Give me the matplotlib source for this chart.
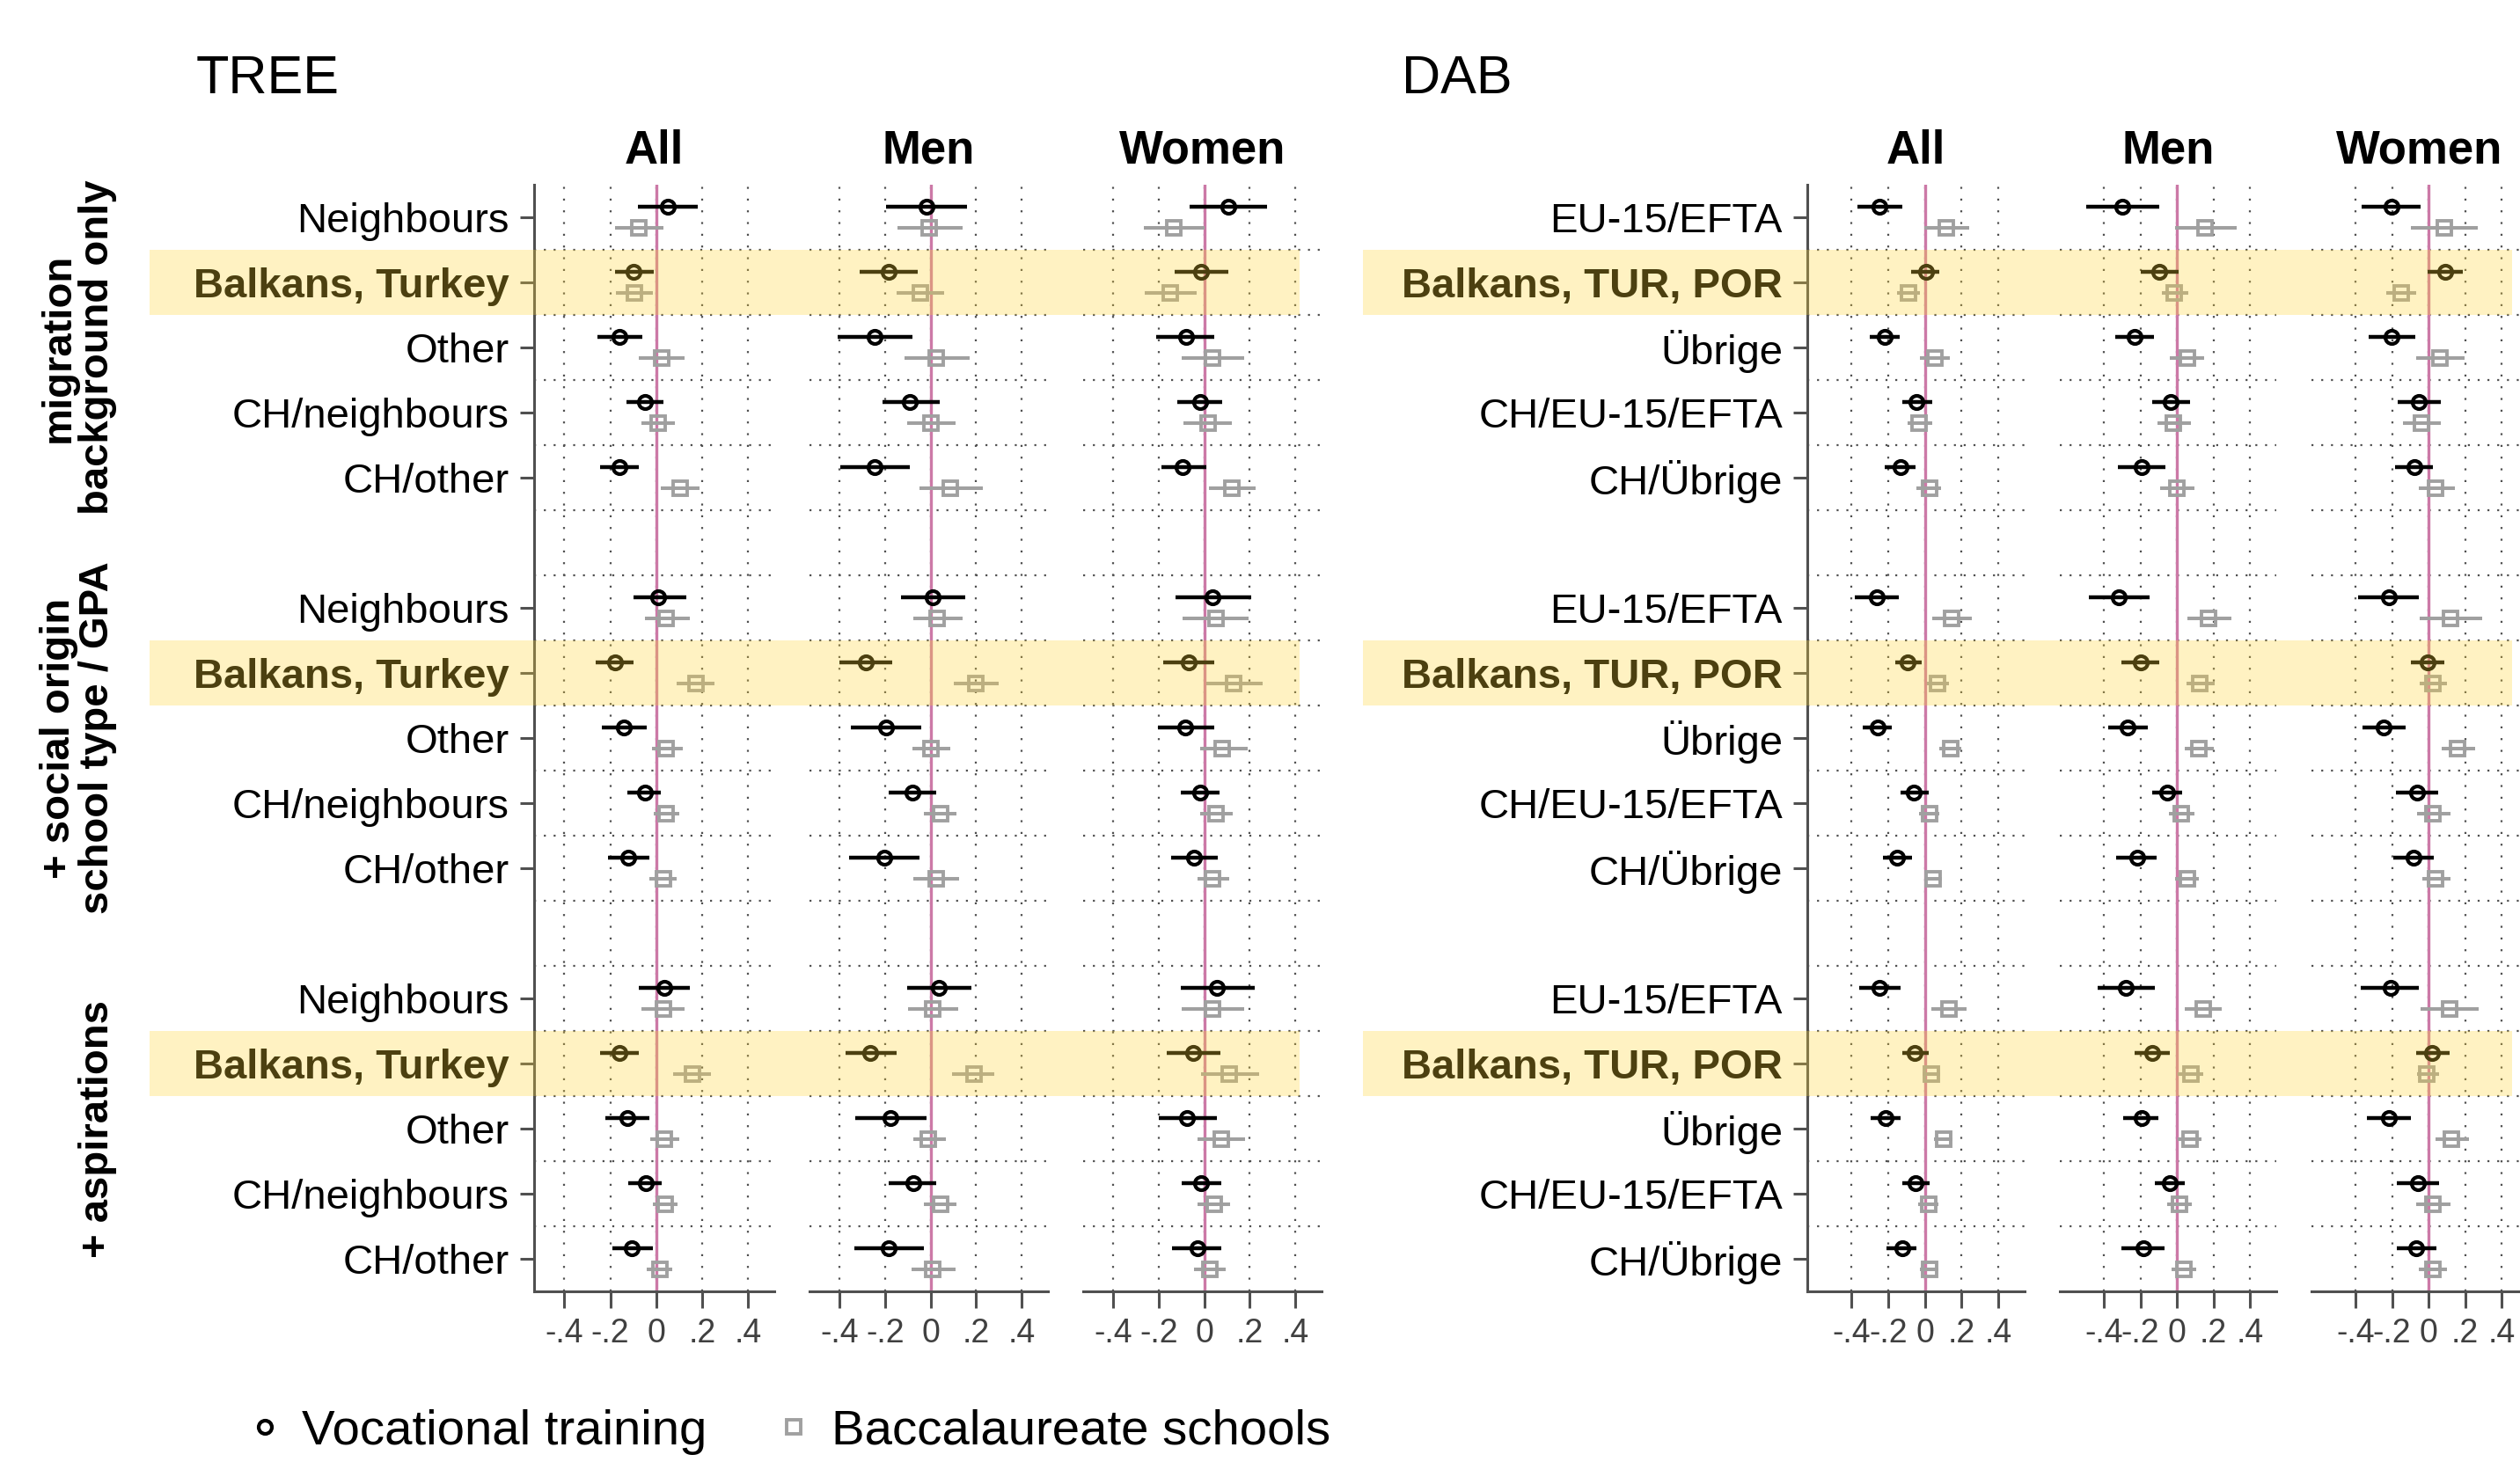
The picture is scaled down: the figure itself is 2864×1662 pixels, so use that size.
import numpy as np
import matplotlib
matplotlib.use("Agg")
import matplotlib.pyplot as plt
from matplotlib import transforms
from matplotlib.patches import Rectangle

plt.rcParams['font.family'] = ['Liberation Sans', 'DejaVu Sans']

W, H, DPI = 2864, 1662, 200

# ---------------- data ----------------
groups = ["migration\nbackground only", "+ social origin\nschool type / GPA", "+ aspirations"]
columns = ["All", "Men", "Women"]
tree_cats = ["Neighbours", "Balkans, Turkey", "Other", "CH/neighbours", "CH/other"]
dab_cats = ["EU-15/EFTA", "Balkans, TUR, POR", "Übrige", "CH/EU-15/EFTA", "CH/Übrige"]
highlight = ["Balkans, Turkey", "Balkans, TUR, POR"]
xticks = [-0.4, -0.2, 0, 0.2, 0.4]
xticklabels = ["-.4", "-.2", "0", ".2", ".4"]
series_labels = ["Vocational training", "Baccalaureate schools"]

# each list: block 1 (5 categories) | block 2 | block 3
tree_all_voc    = [0.05, -0.10, -0.16, -0.05, -0.16,   0.01, -0.18, -0.14, -0.05, -0.12,   0.035, -0.16, -0.125, -0.045, -0.105]
tree_all_voc_lo = [-0.08, -0.18, -0.255, -0.13, -0.245, -0.10, -0.265, -0.235, -0.125, -0.21, -0.075, -0.245, -0.22, -0.12, -0.19]
tree_all_voc_hi = [0.18, -0.01, -0.06, 0.03, -0.075,   0.13, -0.10, -0.04, 0.02, -0.03,   0.145, -0.075, -0.03, 0.025, -0.015]
tree_all_bac    = [-0.075, -0.095, 0.025, 0.01, 0.105,  0.045, 0.175, 0.045, 0.045, 0.03,  0.03, 0.16, 0.035, 0.04, 0.015]
tree_all_bac_lo = [-0.18, -0.175, -0.075, -0.065, 0.02, -0.05, 0.09, -0.02, -0.01, -0.03,  -0.065, 0.075, -0.025, -0.015, -0.04]
tree_all_bac_hi = [0.03, -0.015, 0.125, 0.08, 0.19,     0.145, 0.255, 0.115, 0.10, 0.09,   0.125, 0.24, 0.10, 0.095, 0.07]

tree_men_voc    = [-0.02, -0.185, -0.245, -0.09, -0.245, 0.01, -0.285, -0.195, -0.08, -0.205, 0.035, -0.265, -0.175, -0.075, -0.185]
tree_men_voc_lo = [-0.195, -0.31, -0.41, -0.21, -0.395, -0.13, -0.40, -0.35, -0.185, -0.36, -0.105, -0.375, -0.33, -0.185, -0.335]
tree_men_voc_hi = [0.16, -0.055, -0.08, 0.04, -0.09,    0.15, -0.17, -0.04, 0.025, -0.05,  0.18, -0.15, -0.02, 0.025, -0.03]
tree_men_bac    = [-0.005, -0.045, 0.025, 0.0, 0.085,   0.03, 0.20, 0.0, 0.045, 0.025,    0.01, 0.19, -0.01, 0.045, 0.01]
tree_men_bac_lo = [-0.145, -0.15, -0.115, -0.105, -0.05, -0.075, 0.10, -0.08, -0.03, -0.075, -0.10, 0.095, -0.075, -0.03, -0.085]
tree_men_bac_hi = [0.14, 0.06, 0.17, 0.11, 0.23,        0.14, 0.30, 0.085, 0.115, 0.125,  0.12, 0.28, 0.065, 0.115, 0.11]

tree_women_voc    = [0.105, -0.015, -0.08, -0.02, -0.095, 0.035, -0.07, -0.085, -0.02, -0.045, 0.055, -0.05, -0.075, -0.015, -0.03]
tree_women_voc_lo = [-0.065, -0.13, -0.21, -0.12, -0.19,  -0.125, -0.18, -0.205, -0.105, -0.145, -0.105, -0.165, -0.20, -0.10, -0.14]
tree_women_voc_hi = [0.275, 0.105, 0.045, 0.08, 0.01,     0.205, 0.045, 0.045, 0.065, 0.06,   0.22, 0.07, 0.055, 0.075, 0.075]
tree_women_bac    = [-0.135, -0.15, 0.035, 0.015, 0.12,   0.05, 0.13, 0.08, 0.05, 0.035,     0.035, 0.11, 0.075, 0.045, 0.025]
tree_women_bac_lo = [-0.265, -0.26, -0.10, -0.09, 0.02,   -0.095, 0.01, -0.02, -0.02, -0.03, -0.10, -0.015, -0.03, -0.03, -0.045]
tree_women_bac_hi = [0.0, -0.035, 0.175, 0.12, 0.225,     0.195, 0.255, 0.19, 0.125, 0.11,   0.175, 0.24, 0.18, 0.115, 0.095]

dab_all_voc    = [-0.25, 0.005, -0.22, -0.045, -0.135,  -0.265, -0.095, -0.26, -0.06, -0.15, -0.25, -0.055, -0.215, -0.05, -0.125]
dab_all_voc_lo = [-0.37, -0.075, -0.30, -0.125, -0.22,  -0.385, -0.16, -0.34, -0.135, -0.23, -0.36, -0.125, -0.295, -0.125, -0.21]
dab_all_voc_hi = [-0.125, 0.08, -0.14, 0.04, -0.05,     -0.145, -0.02, -0.18, 0.02, -0.07,  -0.135, 0.02, -0.135, 0.025, -0.045]
dab_all_bac    = [0.115, -0.09, 0.055, -0.03, 0.025,    0.145, 0.07, 0.14, 0.025, 0.045,    0.13, 0.035, 0.10, 0.02, 0.025]
dab_all_bac_lo = [-0.005, -0.15, -0.025, -0.095, -0.045, 0.04, 0.01, 0.08, -0.03, 0.0,      0.035, -0.015, 0.05, -0.035, -0.025]
dab_all_bac_hi = [0.24, -0.025, 0.135, 0.04, 0.09,      0.255, 0.13, 0.20, 0.08, 0.095,     0.225, 0.085, 0.15, 0.075, 0.075]

dab_men_voc    = [-0.30, -0.095, -0.23, -0.035, -0.195,  -0.32, -0.20, -0.27, -0.055, -0.22,  -0.28, -0.135, -0.195, -0.04, -0.185]
dab_men_voc_lo = [-0.495, -0.20, -0.34, -0.135, -0.325, -0.485, -0.305, -0.375, -0.135, -0.335, -0.435, -0.23, -0.295, -0.12, -0.305]
dab_men_voc_hi = [-0.095, 0.01, -0.125, 0.07, -0.065,   -0.15, -0.095, -0.16, 0.03, -0.11,   -0.12, -0.04, -0.10, 0.045, -0.07]
dab_men_bac    = [0.155, -0.015, 0.055, -0.02, 0.0,     0.175, 0.125, 0.12, 0.025, 0.055,    0.145, 0.075, 0.07, 0.015, 0.04]
dab_men_bac_lo = [-0.01, -0.085, -0.04, -0.105, -0.09,  0.055, 0.05, 0.045, -0.045, -0.01,   0.045, 0.005, 0.005, -0.055, -0.03]
dab_men_bac_hi = [0.325, 0.06, 0.15, 0.075, 0.095,      0.30, 0.205, 0.20, 0.095, 0.12,      0.245, 0.145, 0.135, 0.08, 0.105]

dab_women_voc    = [-0.205, 0.09, -0.205, -0.055, -0.08,  -0.22, -0.005, -0.245, -0.065, -0.085, -0.21, 0.02, -0.22, -0.06, -0.07]
dab_women_voc_lo = [-0.365, -0.005, -0.33, -0.17, -0.185, -0.385, -0.095, -0.36, -0.18, -0.195, -0.37, -0.07, -0.34, -0.175, -0.175]
dab_women_voc_hi = [-0.045, 0.185, -0.075, 0.065, 0.025,  -0.055, 0.085, -0.125, 0.05, 0.03,    -0.055, 0.115, -0.095, 0.055, 0.045]
dab_women_bac    = [0.085, -0.15, 0.06, -0.04, 0.04,      0.12, 0.025, 0.16, 0.025, 0.04,       0.115, -0.01, 0.125, 0.025, 0.025]
dab_women_bac_lo = [-0.095, -0.23, -0.07, -0.14, -0.055,  -0.05, -0.05, 0.07, -0.065, -0.035,   -0.045, -0.065, 0.04, -0.07, -0.055]
dab_women_bac_hi = [0.27, -0.07, 0.195, 0.065, 0.145,     0.295, 0.10, 0.255, 0.12, 0.12,       0.275, 0.055, 0.22, 0.12, 0.10]

tree_data = {
    "All": (tree_all_voc, tree_all_voc_lo, tree_all_voc_hi, tree_all_bac, tree_all_bac_lo, tree_all_bac_hi),
    "Men": (tree_men_voc, tree_men_voc_lo, tree_men_voc_hi, tree_men_bac, tree_men_bac_lo, tree_men_bac_hi),
    "Women": (tree_women_voc, tree_women_voc_lo, tree_women_voc_hi, tree_women_bac, tree_women_bac_lo, tree_women_bac_hi),
}
dab_data = {
    "All": (dab_all_voc, dab_all_voc_lo, dab_all_voc_hi, dab_all_bac, dab_all_bac_lo, dab_all_bac_hi),
    "Men": (dab_men_voc, dab_men_voc_lo, dab_men_voc_hi, dab_men_bac, dab_men_bac_lo, dab_men_bac_hi),
    "Women": (dab_women_voc, dab_women_voc_lo, dab_women_voc_hi, dab_women_bac, dab_women_bac_lo, dab_women_bac_hi),
}

# ---------------- style ----------------
PINK = "#CC79A7"
GRAY = "#A0A0A0"
GRID = "#505050"
SPINE = "#505050"
BAND = (1.0, 0.835, 0.21)

# category slots: 5 categories per block, one empty slot between blocks
pos = np.array([6 * b + c for b in range(3) for c in range(5)], dtype=float)
off = 0.162

AX_TOP, AX_BOT = 210, 1468
tree_x = [(607, 880), (920, 1191), (1231, 1502)]
dab_x = [(2054, 2301), (2341, 2587), (2627, 2873)]
tree_xlim = (-0.532, 0.515)
dab_xlim = (-0.642, 0.544)

fig = plt.figure(figsize=(W / DPI, H / DPI), dpi=DPI)


def px_box(x0, x1):
    return [x0 / W, 1 - AX_BOT / H, (x1 - x0) / W, (AX_BOT - AX_TOP) / H]


def draw_panel(ax, data, xlim, cats, title, first):
    voc, voc_lo, voc_hi, bac, bac_lo, bac_hi = [np.asarray(a) for a in data]
    ax.set_xlim(*xlim)
    ax.set_ylim(16.5, -0.5)
    ax.axvline(0, color=PINK, lw=1.2, zorder=1.5)
    for s in np.arange(0.5, 16, 1.0):
        ax.axhline(s, color=GRID, lw=0.8, ls=(0, (1, 4)), zorder=1)
    ax.set_xticks(xticks)
    ax.set_xticklabels(xticklabels)
    ax.grid(axis="x", color=GRID, lw=0.8, ls=(0, (1, 5)))
    ax.set_axisbelow(True)

    ax.hlines(pos + off, bac_lo, bac_hi, color=GRAY, lw=1.45, zorder=3)
    hb, = ax.plot(bac, pos + off, "s", ms=5.8, mfc="none", mec=GRAY, mew=1.4, zorder=4)
    ax.hlines(pos - off, voc_lo, voc_hi, color="black", lw=1.6, zorder=3)
    hv, = ax.plot(voc, pos - off, "o", ms=5.4, mfc="none", mec="black", mew=1.5, zorder=4)

    for sp in ["top", "right"]:
        ax.spines[sp].set_visible(False)
    ax.spines["bottom"].set_color(SPINE)
    ax.spines["bottom"].set_linewidth(1.1)
    ax.tick_params(axis="x", length=6.8, width=1.1, color=SPINE,
                   labelsize=13.5, labelcolor="#404040", pad=4)
    if first:
        ax.spines["left"].set_color(SPINE)
        ax.spines["left"].set_linewidth(1.1)
        ax.set_yticks(pos)
        ax.set_yticklabels(cats * 3)
        ax.tick_params(axis="y", length=5.8, width=1.1, color=SPINE,
                       labelsize=17, pad=4.3)
        for lab in ax.get_yticklabels():
            if lab.get_text() in highlight:
                lab.set_fontweight("bold")
    else:
        ax.spines["left"].set_visible(False)
        ax.set_yticks([])
    ax.text(0.5, (AX_BOT - 186) / (AX_BOT - AX_TOP), title, transform=ax.transAxes,
            ha="center", va="baseline", fontsize=19, fontweight="bold")
    return hv, hb


handles = None
axes_tree = []
for (x0, x1), col in zip(tree_x, columns):
    ax = fig.add_axes(px_box(x0, x1))
    handles = draw_panel(ax, tree_data[col], tree_xlim, tree_cats, col, col == "All")
    axes_tree.append(ax)

axes_dab = []
for (x0, x1), col in zip(dab_x, columns):
    ax = fig.add_axes(px_box(x0, x1))
    draw_panel(ax, dab_data[col], dab_xlim, dab_cats, col, col == "All")
    axes_dab.append(ax)

# dataset titles
fig.text(223 / W, 1 - 106 / H, "TREE", fontsize=22, va="baseline", ha="left")
fig.text(1593 / W, 1 - 106 / H, "DAB", fontsize=22, va="baseline", ha="left")

# model / block labels
trans = transforms.blended_transform_factory(fig.transFigure, axes_tree[0].transData)
for b, g in enumerate(groups):
    fig.text(133 / W, 6 * b + 2, g, transform=trans, rotation=90, ha="right", va="center",
             multialignment="center", fontsize=17, fontweight="bold", linespacing=1.0)

# highlight bands drawn on top of everything
for b in range(3):
    s = 6 * b + 1
    for (x0, x1) in [(170, 1477), (1549, 2855)]:
        r = Rectangle((x0 / W, s - 0.5), (x1 - x0) / W, 1.0, transform=trans,
                      facecolor=BAND, edgecolor="none", alpha=0.3, zorder=10)
        fig.add_artist(r)

fig.legend(handles, series_labels, loc="center left", bbox_to_anchor=(287 / W, 1 - 1628 / H),
           ncol=2, frameon=False, fontsize=20.3, handlelength=0.5, handletextpad=0.5,
           columnspacing=1.5, borderpad=0, borderaxespad=0)

fig.savefig("out.png", dpi=DPI)
